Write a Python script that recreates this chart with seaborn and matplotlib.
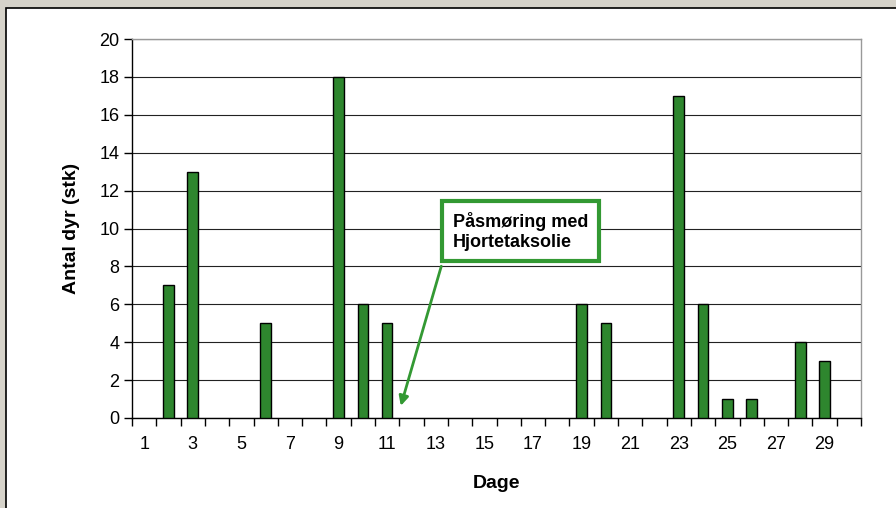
import numpy as np
import pandas as pd
import matplotlib
matplotlib.use("Agg")
import matplotlib.pyplot as plt
import seaborn as sns
from matplotlib.patches import Rectangle

# data
days = list(range(1, 31))
count_days = [2, 3, 6, 9, 10, 11, 19, 20, 23, 24, 25, 26, 28, 29]
counts = [7, 13, 5, 18, 6, 5, 6, 5, 17, 6, 1, 1, 4, 3]
tick_days = list(range(1, 30, 2))
note_text = "Påsmøring med\nHjortetaksolie"
note_day = 11.5

# days without animals get no bar
values = [counts[count_days.index(d)] if d in count_days else np.nan for d in days]
df = pd.DataFrame({"Dage": days, "Antal": values})

sns.set_theme(style="white", rc={"text.color": "black", "axes.labelcolor": "black",
                                 "xtick.color": "black", "ytick.color": "black"})
plt.rcParams['font.family'] = ['Liberation Sans', 'DejaVu Sans']

fig = plt.figure(figsize=(8.96, 5.08), dpi=100)
fig.patch.set_facecolor("#d6d3ca")
# white chart area, only left and top border fall inside the picture
fig.patches.append(Rectangle((6 / 896, -20 / 508), 920 / 896, 520 / 508,
                             transform=fig.transFigure, facecolor="white",
                             edgecolor="black", linewidth=1.2, zorder=-1))

ax = fig.add_axes([132 / 896, 90 / 508, 729 / 896, 379 / 508])
ax.set_facecolor("white")

green = "#2e862e"
sns.barplot(data=df, x="Dage", y="Antal", order=days, color=green,
            width=0.44, edgecolor="black", linewidth=1.0, saturation=1,
            ax=ax, zorder=3)

ax.set_xlim(-0.5, len(days) - 0.5)
ax.set_ylim(0, 20)
ax.set_yticks(np.arange(0, 21, 2))
ax.yaxis.grid(True, color="#222222", linewidth=0.8)
ax.set_axisbelow(True)

# labels at odd days, tick marks between categories
ax.set_xticks([days.index(d) for d in tick_days])
ax.set_xticklabels([str(d) for d in tick_days])
ax.set_xticks(np.arange(-0.5, len(days), 1), minor=True)
ax.tick_params(axis="x", which="major", length=0, pad=13, labelsize=13)
ax.tick_params(axis="x", which="minor", length=6, width=1, color="black",
               direction="out", bottom=True)
ax.tick_params(axis="y", which="major", length=6, width=1, color="black",
               direction="out", left=True, labelsize=13, pad=3)

for s in ["left", "bottom"]:
    ax.spines[s].set_color("black")
    ax.spines[s].set_linewidth(1.0)
for s in ["top", "right"]:
    ax.spines[s].set_color("#999999")
    ax.spines[s].set_linewidth(1.0)

ax.set_xlabel("Dage", fontsize=14, weight="bold", labelpad=16)
ax.set_ylabel("Antal dyr (stk)", fontsize=14, weight="bold", labelpad=14)

# annotation box and arrow
x_target = note_day - 1
ax.annotate("", xy=(x_target + 0.03, 0.5), xytext=(12.26, 8.15),
            arrowprops=dict(arrowstyle="-|>", color="#339933", lw=2,
                            mutation_scale=14), zorder=5)
ax.text(12.7, 9.85, note_text, fontsize=13, weight="bold", ha="left",
        va="center", linespacing=1.2, zorder=6, color="black",
        bbox=dict(boxstyle="square,pad=0.6", facecolor="white",
                  edgecolor="#339933", linewidth=3))

fig.savefig("out.png", dpi=100, facecolor=fig.get_facecolor())
